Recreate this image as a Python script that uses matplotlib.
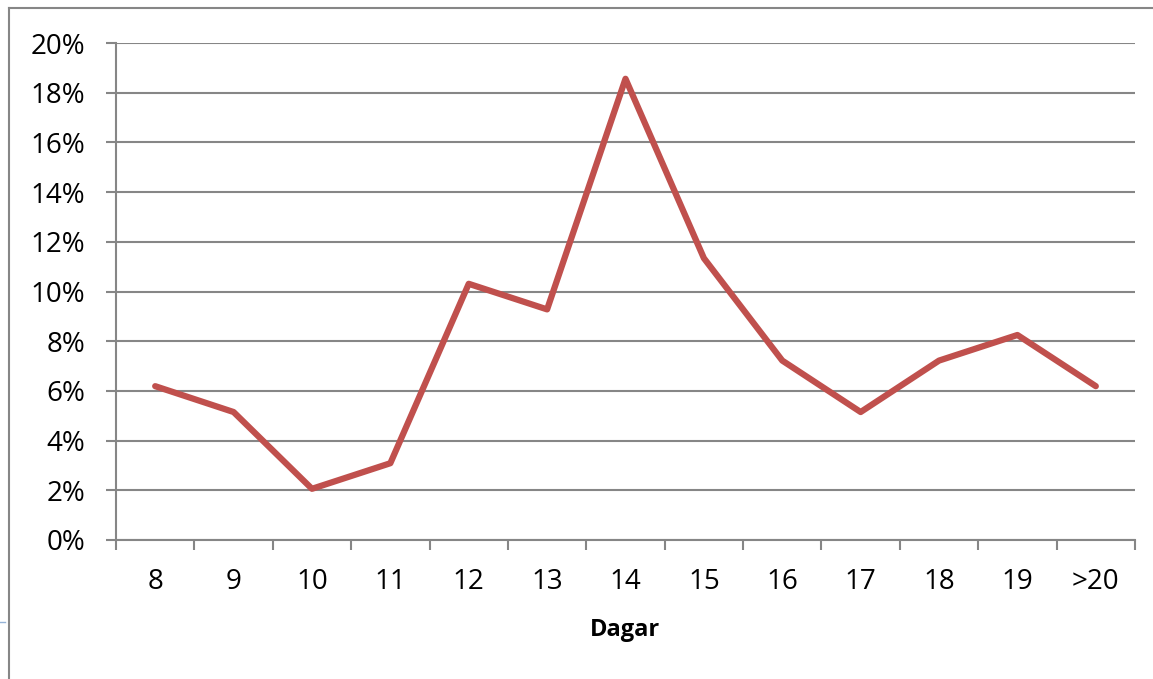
import matplotlib
matplotlib.use("Agg")
import matplotlib.pyplot as plt
from matplotlib.lines import Line2D
from matplotlib.ticker import FixedLocator, FuncFormatter

categories = ["8", "9", "10", "11", "12", "13", "14", "15", "16", "17", "18", "19", ">20"]
values = [6.19, 5.15, 2.06, 3.09, 10.31, 9.28, 18.56, 11.34, 7.22, 5.15, 7.22, 8.25, 6.19]
y_ticks = [0, 2, 4, 6, 8, 10, 12, 14, 16, 18, 20]
x_label = "Dagar"

plt.rcParams['font.family'] = ['Open Sans', 'DejaVu Sans']

W, H = 1153, 679
fig = plt.figure(figsize=(W / 100, H / 100), dpi=100)
ax = fig.add_axes([116 / W, 1 - 540 / H, (1135 - 116) / W, (540 - 43) / H])

grid_col = "#868686"
x = list(range(len(categories)))
ax.plot(x, values, color="#C0504D", linewidth=4.5, solid_joinstyle="round",
        solid_capstyle="round", zorder=3, clip_on=False)

ax.set_xlim(-0.5, len(categories) - 0.5)
ax.set_ylim(0, 20)

ax.yaxis.set_major_locator(FixedLocator(y_ticks))
ax.yaxis.set_major_formatter(FuncFormatter(lambda v, p: f"{v:.0f}%"))
ax.grid(axis="y", color=grid_col, linewidth=1.5, zorder=1)

ax.set_xticks(x)
ax.set_xticklabels(categories)
ax.set_xticks([i - 0.5 for i in range(len(categories) + 1)], minor=True)
ax.tick_params(axis="x", which="major", length=0, pad=20.5, labelsize=20, colors="black")
ax.tick_params(axis="x", which="minor", length=7.2, width=1.5, color=grid_col, direction="out")
ax.tick_params(axis="y", which="major", length=7.2, width=1.5, color=grid_col, direction="out",
               pad=15, labelsize=20, labelcolor="black")

for s in ["top", "right"]:
    ax.spines[s].set_visible(False)
for s in ["left", "bottom"]:
    ax.spines[s].set_color(grid_col)
    ax.spines[s].set_linewidth(1.5)

ax.set_xlabel(x_label, fontsize=17, fontweight="bold", labelpad=15.5)

# outer chart frame (top and left edges visible)
fig.add_artist(Line2D([9 / W, 9 / W], [0, 1 - 8 / H], transform=fig.transFigure, color=grid_col, linewidth=1.5))
fig.add_artist(Line2D([9 / W, 1], [1 - 8 / H, 1 - 8 / H], transform=fig.transFigure, color=grid_col, linewidth=1.5))
fig.add_artist(Line2D([0, 5 / W], [1 - 622 / H, 1 - 622 / H], transform=fig.transFigure, color="#95B3D7", linewidth=1))

fig.savefig("out.png", dpi=100)
